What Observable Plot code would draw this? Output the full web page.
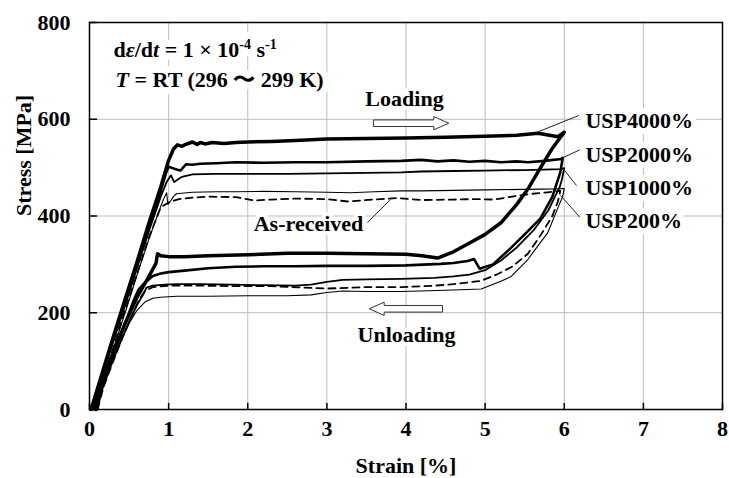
<!DOCTYPE html>
<html><head><meta charset="utf-8">
<script src="https://cdn.jsdelivr.net/npm/d3@7"></script>
<script src="https://cdn.jsdelivr.net/npm/@observablehq/plot@0.6"></script>
<style>body{margin:0;background:#fff}</style>
</head><body><div id="chart"></div>
<script>
// ---- axis ticks ----
const xTicks = [0, 1, 2, 3, 4, 5, 6, 7, 8];
const yTicks = [0, 200, 400, 600, 800];

// ---- series: strain [%] and stress [MPa] (loading then unloading) ----
const usp4000Strain = [0.02,0.15,0.3,0.45,0.6,0.75,0.9,1.0,1.06,1.11,1.17,1.2,1.3,1.36,1.4,1.46,1.55,1.7,1.85,2.0,2.3,2.6,3.0,3.5,4.0,4.5,5.0,5.4,5.67,5.85,5.92,6.0,
  5.85,5.7,5.55,5.4,5.2,5.0,4.78,4.6,4.4,4.2,4.0,3.5,3.0,2.5,2.0,1.5,1.2,1.0,0.9,0.86,0.84,0.75,0.6,0.45,0.3,0.15,0.08];
const usp4000Stress = [0,70,150,228,305,385,460,515,538,547,544,547,553,548,552,549,552,550,552,553,554,556,559,560,561,563,565,567,571,566,564,573,
  540,500,458,424,386,362,342,326,313,318,321,322,323,323,320,318,316,316,318,322,302,275,232,178,118,52,0];

const usp2000Strain = [0.02,0.15,0.3,0.45,0.6,0.75,0.9,0.97,1.0,1.05,1.1,1.15,1.22,1.3,1.4,1.6,1.85,2.2,2.6,3.0,3.5,3.94,4.19,4.4,4.6,4.8,5.0,5.2,5.4,5.54,5.75,5.96,5.98,
  5.95,5.85,5.7,5.5,5.3,5.1,4.93,4.86,4.78,4.6,4.44,4.0,3.5,3.0,2.6,2.2,1.85,1.5,1.2,1.0,0.9,0.8,0.7,0.62,0.55,0.42,0.28,0.15,0.07];
const usp2000Stress = [0,68,147,222,298,375,452,490,502,499,496,494,507,506,508,509,511,510,511,511,513,514,516,513,515,512,514,511,513,511,514,518,520,
  490,440,395,362,330,300,291,311,307,303,301,298,297,297,296,296,295,292,287,284,281,276,262,248,222,165,105,45,0];

const usp1000Strain = [0.03,0.15,0.3,0.45,0.6,0.75,0.9,0.98,1.03,1.07,1.12,1.17,1.3,1.6,1.85,2.5,3.0,3.5,3.94,4.19,4.6,5.0,5.5,5.96,6.0,
  5.97,5.94,5.8,5.62,5.4,5.2,5.0,4.8,4.6,4.36,3.94,3.5,3.2,3.0,2.8,2.6,2.2,1.8,1.4,1.1,0.95,0.8,0.72,0.68,0.6,0.5,0.38,0.25,0.14,0.1];
const usp1000Stress = [0,62,140,215,292,368,440,472,484,470,476,481,486,487,487,487,488,489,490,492,493,494,495,497,499,
  475,459,412,372,335,308,288,279,275,272,270,269,268,264,258,256,257,258,259,259,258,256,252,238,216,182,135,82,32,0];

const usp200Strain = [0.04,0.18,0.3,0.45,0.6,0.75,0.9,0.95,0.975,0.99,1.03,1.06,1.1,1.3,1.6,1.85,2.2,2.6,3.0,3.3,3.6,3.94,4.19,4.6,5.0,5.5,5.9,6.0,
  5.98,5.94,5.79,5.62,5.54,5.33,5.2,4.95,4.78,4.4,3.94,3.5,3.2,3.0,2.8,2.5,2.0,1.5,1.1,0.9,0.8,0.7,0.6,0.5,0.38,0.25,0.15,0.11];
const usp200Stress = [0,62,125,200,278,352,420,440,448,424,432,440,446,449,450,450,451,450,449,448,450,452,452,453,454,455,456,457,
  440,425,365,328,310,275,265,249,248,246,244,244,245,242,237,235,235,234,234,232,230,222,205,178,135,85,38,0];

const asRecStrain = [0.05,0.18,0.3,0.45,0.6,0.75,0.9,1.0,1.13,1.3,1.5,1.85,2.08,2.3,2.6,3.0,3.26,3.6,3.89,4.19,4.6,4.87,5.12,5.41,5.6,5.79,5.95,
  5.92,5.85,5.7,5.54,5.35,5.16,4.95,4.6,4.36,3.94,3.5,3.0,2.7,2.3,1.8,1.4,1.0,0.8,0.7,0.62,0.55,0.42,0.3,0.18,0.1];
const asRecStress = [0,62,128,205,280,355,418,428,435,438,440,439,432,434,436,435,430,434,437,433,434,435,434,442,446,449,452,
  430,400,360,322,296,280,266,259,256,253,253,250,252,255,255,256,256,253,245,225,198,150,100,48,0];

// ---- annotations (data coordinates) ----
const noteText = ["dε/dt = 1 × 10-4 s-1", "T = RT (296 〜 299 K)"];
const noteX = [0.303, 0.329];
const noteY = [727.8, 666.3];
const labelText = ["USP4000%", "USP2000%", "USP1000%", "USP200%"];
const labelX = [6.268, 6.268, 6.268, 6.268];
const labelY = [580.9, 510.6, 442.4, 374.2];
const leaderX1 = [5.658, 5.953, 5.987, 5.953, 3.513];
const leaderY1 = [573.2, 518.2, 497.6, 442.4, 386.6];
const leaderX2 = [6.184, 6.197, 6.155, 6.197, 3.804];
const leaderY2 = [607.8, 536.8, 463.0, 397.5, 434.1];
const wordText = ["Loading", "Unloading", "As-received"];
const wordX = [3.981, 4.006, 2.768];
const wordY = [628.4, 140.5, 368.0];
const loadArrow = [{x: 3.593, y: 591.8}];
const unloadArrow = [{x: 4.457, y: 208.2}];

const rows = (name, xs, ys) => xs.map((x, i) => ({series: name, strain: x, stress: ys[i]}));

const tickShape = {draw(c, l) { c.moveTo(0, 0); c.lineTo(0, -l); }};
const blockArrow = {draw(c, l) {
  const sw = 3.3, hw = 6.6, hl = 15;
  c.moveTo(-sw, 0); c.lineTo(-sw, -(l - hl)); c.lineTo(-hw, -(l - hl)); c.lineTo(0, -l);
  c.lineTo(hw, -(l - hl)); c.lineTo(sw, -(l - hl)); c.lineTo(sw, 0); c.closePath();
}};

const serif = "'Liberation Serif', 'Times New Roman', serif";
const font = {fontFamily: serif, fontWeight: "bold", fontSize: 22};

const chart = Plot.plot({
  width: 729, height: 478,
  marginLeft: 89, marginRight: 7, marginTop: 22, marginBottom: 69,
  x: {domain: [0, 8]},
  y: {domain: [0, 800]},
  style: {fontFamily: serif, fontSize: "22px", fontWeight: "bold", background: "white", color: "black", overflow: "visible"},
  marks: [
    Plot.gridX(xTicks, {stroke: "#bdbdbd", strokeOpacity: 1, strokeWidth: 1}),
    Plot.gridY(yTicks, {stroke: "#bdbdbd", strokeOpacity: 1, strokeWidth: 1}),
    Plot.axisX({ticks: xTicks, tickSize: 0, tickPadding: 11, label: null, ...font}),
    Plot.axisY({ticks: yTicks, tickSize: 0, tickPadding: 19, label: null, ...font}),
    Plot.vector(xTicks, {x: d => d, y: 0, length: 6, rotate: 0, anchor: "start", shape: tickShape, stroke: "black", strokeWidth: 1.5}),
    Plot.vector(yTicks, {x: 0, y: d => d, length: 7, rotate: 90, anchor: "start", shape: tickShape, stroke: "black", strokeWidth: 1.5}),
    // white halos behind the annotation texts
    Plot.text(noteText, {x: noteX, y: noteY, text: d => d, textAnchor: "start", lineAnchor: "bottom", ...font, fill: "white", stroke: "white", strokeWidth: 14}),
    Plot.text(labelText, {x: labelX, y: labelY, text: d => d, textAnchor: "start", lineAnchor: "bottom", ...font, fill: "white", stroke: "white", strokeWidth: 12}),
    Plot.text(wordText, {x: wordX, y: wordY, text: d => d, textAnchor: "middle", lineAnchor: "bottom", ...font, fill: "white", stroke: "white", strokeWidth: 8}),
    Plot.line(rows("As-received", asRecStrain, asRecStress), {x: "strain", y: "stress", stroke: "black", strokeWidth: 1.8, strokeDasharray: "7,5"}),
    Plot.line(rows("USP200%", usp200Strain, usp200Stress), {x: "strain", y: "stress", stroke: "black", strokeWidth: 1.1, strokeLinejoin: "round"}),
    Plot.line(rows("USP1000%", usp1000Strain, usp1000Stress), {x: "strain", y: "stress", stroke: "black", strokeWidth: 1.8, strokeLinejoin: "round"}),
    Plot.line(rows("USP2000%", usp2000Strain, usp2000Stress), {x: "strain", y: "stress", stroke: "black", strokeWidth: 2.6, strokeLinejoin: "round"}),
    Plot.line(rows("USP4000%", usp4000Strain, usp4000Stress), {x: "strain", y: "stress", stroke: "black", strokeWidth: 3.5, strokeLinejoin: "round"}),
    Plot.link(leaderX1, {x1: leaderX1, y1: leaderY1, x2: leaderX2, y2: leaderY2, stroke: "#222", strokeWidth: 1}),
    Plot.vector(loadArrow, {x: "x", y: "y", rotate: 90, length: 75, anchor: "start", shape: blockArrow, stroke: "#333", strokeWidth: 1, fill: "white"}),
    Plot.vector(unloadArrow, {x: "x", y: "y", rotate: -90, length: 73, anchor: "start", shape: blockArrow, stroke: "#333", strokeWidth: 1, fill: "white"}),
    // annotation texts
    Plot.text(noteText, {x: noteX, y: noteY, text: d => d, textAnchor: "start", lineAnchor: "bottom", ...font, fill: "black"}),
    Plot.text(labelText, {x: labelX, y: labelY, text: d => d, textAnchor: "start", lineAnchor: "bottom", ...font, fill: "black"}),
    Plot.text(wordText, {x: wordX, y: wordY, text: d => d, textAnchor: "middle", lineAnchor: "bottom", ...font, fill: "black"}),
    Plot.text(["Strain [%]"], {frameAnchor: "bottom", dy: 63, lineAnchor: "bottom", text: d => d, ...font}),
    Plot.text(["Stress [MPa]"], {frameAnchor: "left", dx: -66, rotate: -90, lineAnchor: "middle", text: d => d, ...font}),
    Plot.frame({stroke: "black", strokeWidth: 1.5})
  ]
});
document.getElementById("chart").appendChild(chart);

// rich formatting (italic variables, superscripts) for the condition note
const rich = {
  "dε/dt = 1 × 10-4 s-1": [["d"], ["ε", "i"], ["/d"], ["t", "i"], [" = 1 × 10"], ["-4", "s"], [" s"], ["-1", "s"]],
  "T = RT (296 〜 299 K)": [["T", "i"], [" = RT (296 〜 299 K)"]]
};
chart.querySelectorAll("text").forEach(t => {
  const parts = rich[t.textContent];
  if (!parts) return;
  t.textContent = "";
  let raised = false;
  for (const [s, k] of parts) {
    const ts = document.createElementNS("http://www.w3.org/2000/svg", "tspan");
    ts.textContent = s;
    if (k === "i") ts.setAttribute("font-style", "italic");
    if (k === "s") { ts.setAttribute("font-size", "14px"); ts.setAttribute("dy", "-8"); raised = true; }
    else if (raised) { ts.setAttribute("dy", "8"); raised = false; }
    t.appendChild(ts);
  }
});
</script></body></html>
